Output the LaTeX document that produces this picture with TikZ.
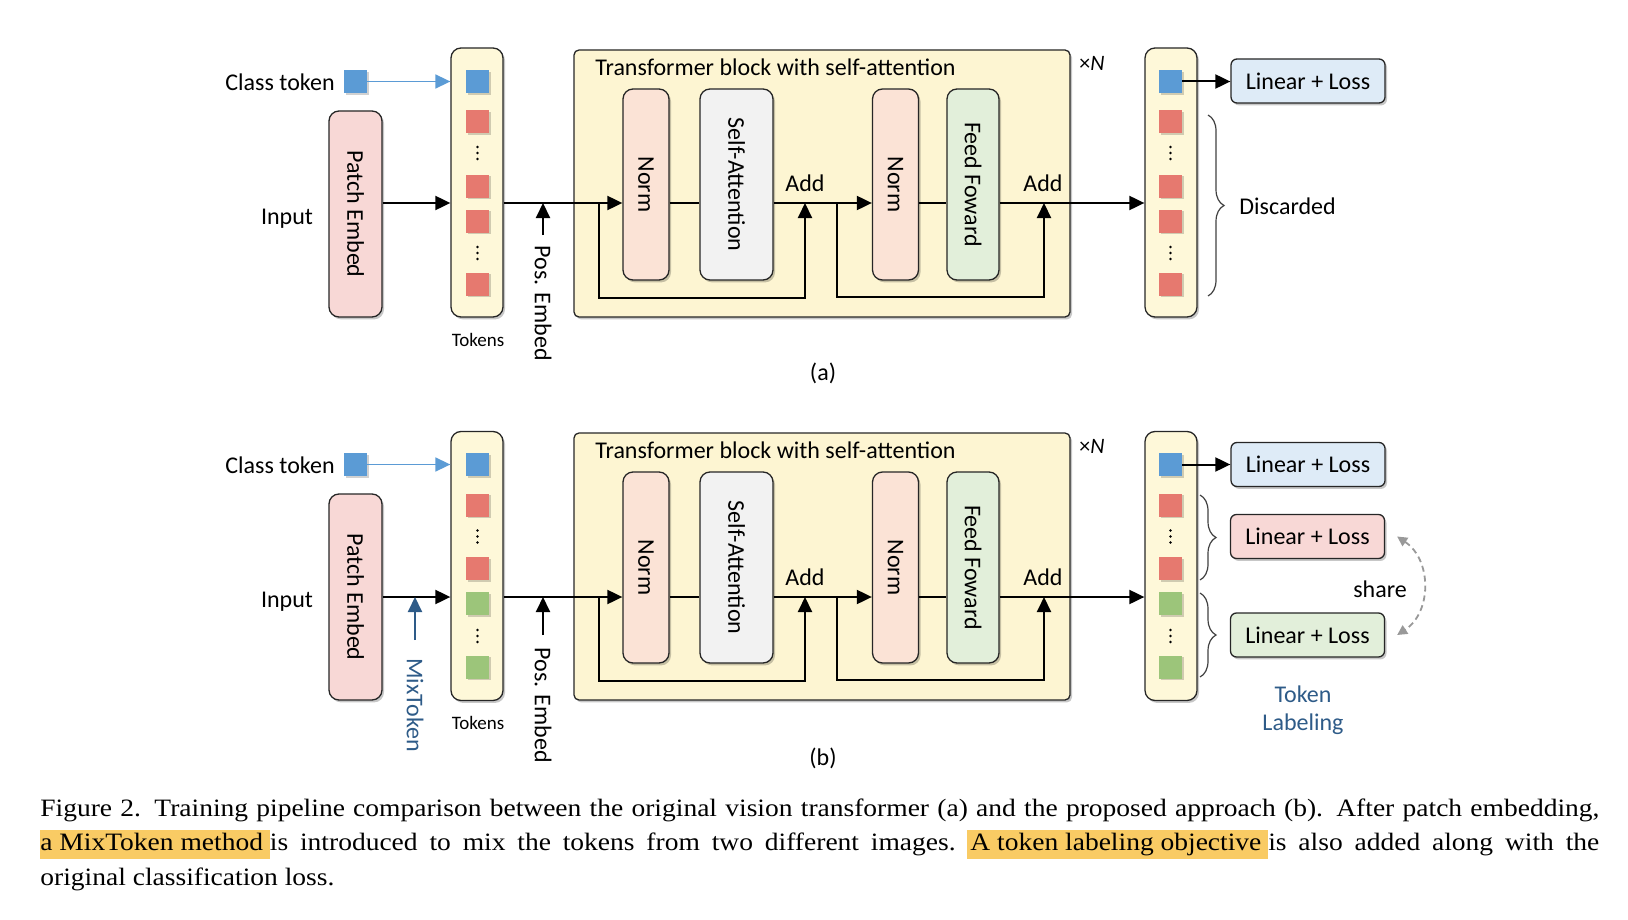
\documentclass[tikz,border=0pt]{standalone}
\usepackage{fontspec}
\setmainfont{Carlito}
\newfontfamily\capfont[FakeStretch=1.1]{Liberation Serif}
\usepackage{graphicx}
\usetikzlibrary{arrows.meta,calc,positioning,decorations.pathreplacing,shadows}

\definecolor{colfill}{HTML}{FEF8D9}
\definecolor{trfill}{HTML}{FDF5D2}
\definecolor{pefill}{HTML}{F8D8D6}
\definecolor{normfill}{HTML}{FBE3D6}
\definecolor{safill}{HTML}{F2F2F2}
\definecolor{fffill}{HTML}{E2EFDA}
\definecolor{linblue}{HTML}{DEEBF7}
\definecolor{linred}{HTML}{F8D8D6}
\definecolor{lingreen}{HTML}{E2EFDA}
\definecolor{tokblue}{HTML}{5B9BD5}
\definecolor{tokred}{HTML}{E6796F}
\definecolor{tokgreen}{HTML}{9CC57A}
\definecolor{mixblue}{HTML}{2E5B88}
\definecolor{sharegray}{HTML}{999999}
\definecolor{hlcol}{HTML}{F9CB64}
\definecolor{bordercol}{HTML}{262626}

\newcommand{\hlt}[1]{{\setlength{\fboxsep}{0pt}\colorbox{hlcol}{\rule[-4pt]{0pt}{14.5pt}#1}}}

\tikzset{
  blk/.style={draw=bordercol, line width=0.65pt, rounded corners=5pt, inner sep=0pt,
    drop shadow={shadow xshift=1pt, shadow yshift=-1.2pt, opacity=0.22, fill=black}},
  linbox/.style={blk, rounded corners=3pt, minimum width=77pt, minimum height=22pt},
  colbox/.style={blk, fill=colfill, minimum width=26pt, minimum height=134.5pt},
  normbox/.style={blk, fill=normfill, minimum width=23pt, minimum height=95.5pt},
  tok/.style={minimum size=11.5pt, inner sep=0pt,
    drop shadow={shadow xshift=0.8pt, shadow yshift=-0.8pt, opacity=0.18, fill=black}},
  lbl/.style={inner sep=0pt},
  ln/.style={line width=1pt, draw=black},
  arr/.style={ln, -{Triangle[length=7.5pt,width=7pt]}},
  arrblue/.style={line width=0.8pt, color=tokblue, -{Triangle[length=7.5pt,width=7pt]}},
  brc/.style={decorate, decoration={brace, amplitude=8pt}, line width=0.6pt, draw=black!75},
  sharearr/.style={dash pattern=on 3pt off 2pt, line width=0.9pt, color=sharegray,
    {Triangle[length=5pt,width=5pt]}-{Triangle[length=5pt,width=5pt]}},
}

\begin{document}
\begin{tikzpicture}[x=0.5pt, y=-0.5pt, font=\fontsize{12}{14}\selectfont]
\useasboundingbox (0,0) rectangle (1628,920);

% ---------- (a) ----------
\coordinate (la) at (0,203);
\node[lbl, anchor=east] (clsa) at (335,82) {Class token};
\node[tok, fill=tokblue] (clsqa) at (355.5,81.5) {};
\node[blk, fill=pefill, minimum width=26.5pt, minimum height=103pt] (pea) at (355.5,214) {\rotatebox{-90}{Patch Embed}};
\node[lbl] (inpa) at (287,219) {Input};
\node[colbox] (cola) at (477,182.5) {};
\node[colbox] (oca) at (1171,182.5) {};
\foreach \yy/\cc [count=\i] in {81.5/tokblue,122/tokred,186/tokred,221/tokred,284/tokred}{
  \node[tok, fill=\cc] (ina\i) at (477.5,\yy) {};
  \node[tok, fill=\cc] (outa\i) at (1170.5,\yy) {};
}
% vertical dots
\foreach \xx in {477.5,1170.5}
  \foreach \yy in {153,253}
    \foreach \dd in {-6,0,6}
      \fill (\xx,\yy+\dd) circle (0.65pt);
\node[lbl, font=\fontsize{9.5}{11}\selectfont] (toka) at (478,340) {Tokens};
\draw[arrblue] (clsqa.east) -- (clsqa.east -| cola.west);
\draw[arr] (pea.east |- la) -- (cola.west |- la);
\node[lbl, anchor=north] (posa) at (543,245) {\rotatebox{-90}{Pos. Embed}};
\draw[arr] ([yshift=5pt]posa.north) -- (posa.north |- la);

% transformer block
\node[blk, rounded corners=2.5pt, fill=trfill, minimum width=248pt, minimum height=133.5pt] (tra) at (822,183.5) {};
\node[lbl, anchor=west] (tita) at (595,67) {Transformer block with self-attention};
\node[lbl, font=\fontsize{11}{13}\selectfont] (rpta) at (1092,63) {×\textit{N}};
\node[normbox] (n1a) at (646,184.5) {\rotatebox{-90}{Norm}};
\node[blk, fill=safill, minimum width=36.5pt, minimum height=95.5pt] (saa) at (736.5,184.5) {\rotatebox{-90}{Self-Attention}};
\node[normbox] (n2a) at (895.5,184.5) {\rotatebox{-90}{Norm}};
\node[blk, fill=fffill, minimum width=26pt, minimum height=95.5pt] (ffa) at (973,184.5) {\rotatebox{-90}{Feed Foward}};
\coordinate (sk1a) at (599,203);
\coordinate (ad1a) at (805,203);
\coordinate (sk2a) at (837,203);
\coordinate (ad2a) at (1044,203);
\draw[arr] (cola.east |- la) -- (n1a.west |- la);
\draw[ln] (n1a.east |- la) -- (saa.west |- la);
\draw[arr] (saa.east |- la) -- (n2a.west |- la);
\draw[ln] (n2a.east |- la) -- (ffa.west |- la);
\draw[arr] (ffa.east |- la) -- (oca.west |- la);
\draw[arr] (sk1a) -- ++(0,95) -| (ad1a);
\draw[arr] (sk2a) -- ++(0,94) -| (ad2a);
\node[lbl] (add1a) at (805,183) {Add};
\node[lbl] (add2a) at (1043,183) {Add};

% outputs
\node[linbox, fill=linblue] (lina) at (1308,81) {Linear + Loss};
\draw[arr] (outa1.east) -- (outa1.east -| lina.west);
\draw[brc] (1208,115) -- (1208,296);
\node[lbl, anchor=west] (disca) at (1239,206) {Discarded};
\node[lbl] (capa) at (823,373) {(a)};

% ---------- (b) ----------
\coordinate (lb) at (0,597);
\node[lbl, anchor=east] (clsb) at (335,465) {Class token};
\node[tok, fill=tokblue] (clsqb) at (355.5,464.5) {};
\node[blk, fill=pefill, minimum width=26.5pt, minimum height=103pt] (peb) at (355.5,597) {\rotatebox{-90}{Patch Embed}};
\node[lbl] (inpb) at (287,602) {Input};
\node[colbox] (colb) at (477,566) {};
\node[colbox] (ocb) at (1171,566) {};
\foreach \yy/\cc [count=\i] in {464.5/tokblue,505/tokred,568.5/tokred,603.5/tokgreen,667/tokgreen}{
  \node[tok, fill=\cc] (inb\i) at (477.5,\yy) {};
  \node[tok, fill=\cc] (outb\i) at (1170.5,\yy) {};
}
% vertical dots
\foreach \xx in {477.5,1170.5}
  \foreach \yy in {536.5,636}
    \foreach \dd in {-6,0,6}
      \fill (\xx,\yy+\dd) circle (0.65pt);
\node[lbl, font=\fontsize{9.5}{11}\selectfont] (tokb) at (478,723) {Tokens};
\draw[arrblue] (clsqb.east) -- (clsqb.east -| colb.west);
\draw[arr] (peb.east |- lb) -- (colb.west |- lb);
\node[lbl, anchor=north, text=mixblue] (mixb) at (415,658) {\rotatebox{-90}{MixToken}};
\draw[arr, color=mixblue] ([yshift=9pt]mixb.north) -- (mixb.north |- lb);
\node[lbl, anchor=north] (posb) at (543,647) {\rotatebox{-90}{Pos. Embed}};
\draw[arr] ([yshift=6pt]posb.north) -- (posb.north |- lb);

% transformer block
\node[blk, rounded corners=2.5pt, fill=trfill, minimum width=248pt, minimum height=133.5pt] (trb) at (822,566.5) {};
\node[lbl, anchor=west] (titb) at (595,450) {Transformer block with self-attention};
\node[lbl, font=\fontsize{11}{13}\selectfont] (rptb) at (1092,446) {×\textit{N}};
\node[normbox] (n1b) at (646,567.5) {\rotatebox{-90}{Norm}};
\node[blk, fill=safill, minimum width=36.5pt, minimum height=95.5pt] (sab) at (736.5,567.5) {\rotatebox{-90}{Self-Attention}};
\node[normbox] (n2b) at (895.5,567.5) {\rotatebox{-90}{Norm}};
\node[blk, fill=fffill, minimum width=26pt, minimum height=95.5pt] (ffb) at (973,567.5) {\rotatebox{-90}{Feed Foward}};
\coordinate (sk1b) at (599,597);
\coordinate (ad1b) at (805,597);
\coordinate (sk2b) at (837,597);
\coordinate (ad2b) at (1044,597);
\draw[arr] (colb.east |- lb) -- (n1b.west |- lb);
\draw[ln] (n1b.east |- lb) -- (sab.west |- lb);
\draw[arr] (sab.east |- lb) -- (n2b.west |- lb);
\draw[ln] (n2b.east |- lb) -- (ffb.west |- lb);
\draw[arr] (ffb.east |- lb) -- (ocb.west |- lb);
\draw[arr] (sk1b) -- ++(0,84) -| (ad1b);
\draw[arr] (sk2b) -- ++(0,83) -| (ad2b);
\node[lbl] (add1b) at (805,577) {Add};
\node[lbl] (add2b) at (1043,577) {Add};

% outputs
\node[linbox, fill=linblue] (linb1) at (1308,464.5) {Linear + Loss};
\node[linbox, fill=linred] (linb2) at (1307.5,536.5) {Linear + Loss};
\node[linbox, fill=lingreen] (linb3) at (1307.5,635) {Linear + Loss};
\draw[arr] (outb1.east) -- (outb1.east -| linb1.west);
\draw[brc] (1200,495) -- (1200,580);
\draw[brc] (1200,593) -- (1200,677);
\node[lbl] (shr) at (1380,589) {share};
\draw[sharearr] ($(linb2.east)+(12,0)$) .. controls (1432,560) and (1432,612) .. ($(linb3.east)+(12,0)$);
\node[lbl, text=mixblue, align=center] (tlab) at (1303,710) {Token\\Labeling};
\node[lbl] (capb) at (823,758) {(b)};

% caption
\node[anchor=north west, inner sep=0pt, text width=779.5pt, align=justify,
  font=\capfont\fontsize{12.5}{17.25}\selectfont] (capt) at (40,798)
  {\noindent Figure 2. Training pipeline comparison between the original vision transformer (a) and the proposed approach (b). After patch embedding,\linebreak
  \hlt{a MixToken method\ }is introduced to mix the tokens from two different images.\ \hlt{\kern1.5pt A token labeling objective\ }is also added along with the\linebreak
  original classification loss.};
\end{tikzpicture}
\end{document}
